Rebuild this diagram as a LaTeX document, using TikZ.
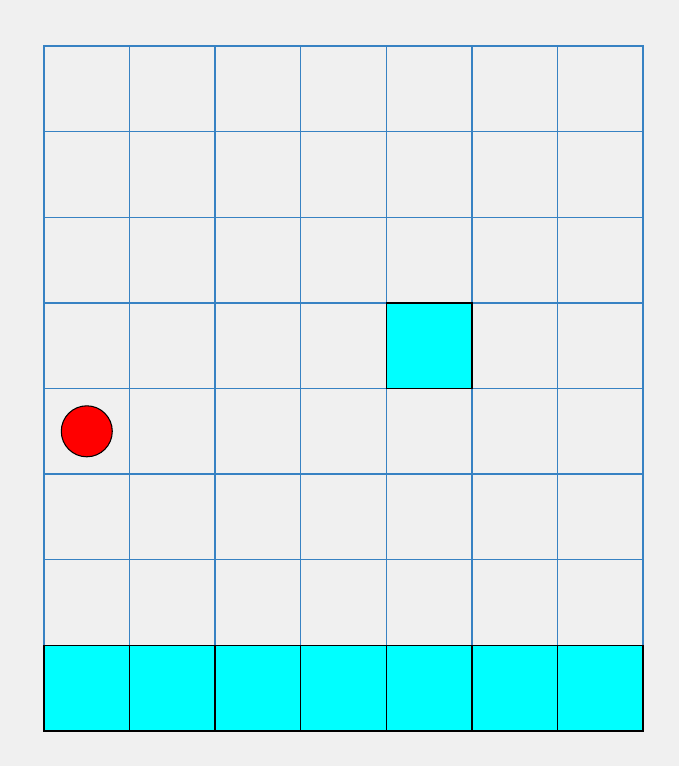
\documentclass[tikz,border=0pt]{standalone}
\usepackage{xcolor}
\usepackage{tikz}
\usetikzlibrary{positioning}
\definecolor{bggray}{RGB}{240,240,240}
\definecolor{gridblue}{RGB}{55,130,195}
\definecolor{aqua}{RGB}{0,255,255}

\begin{document}
\begin{tikzpicture}[x=0.02cm, y=-0.02cm,
  cell/.style={draw=gridblue, line width=0.8pt, minimum width=1.711cm, minimum height=1.712cm, inner sep=0pt, outer sep=0pt},
  block/.style={cell, draw=black, fill=aqua},
  ball/.style={circle, draw=black, line width=0.6pt, fill=red, minimum size=1.02cm, inner sep=0pt}]
\useasboundingbox[fill=bggray] (0,0) rectangle (679,766);
% rejilla 7 x 8
\foreach \r in {0,...,7}{
  \foreach \c in {0,...,6}{
    \node[cell] (c\r\c) at ({44+85.57*(\c+0.5)},{46+85.625*(\r+0.5)}) {};
  }
}
% suelo
\foreach \c in {0,...,6}{
  \node[block] (floor\c) at (c7\c) {};
}
% meta y pelota
\node[block] (goal) at (c34) {};
\node[ball] (ball) at (c40) {};
\end{tikzpicture}
\end{document}
